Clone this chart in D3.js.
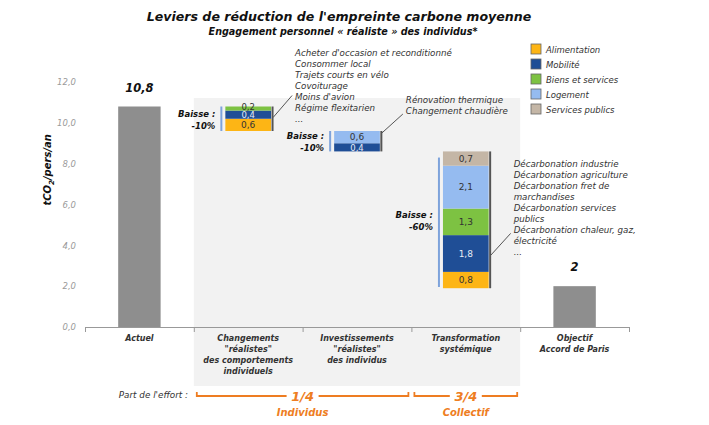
<!DOCTYPE html>
<html>
<head>
<meta charset="utf-8">
<script src="https://cdn.jsdelivr.net/npm/d3@7"></script>
<style>
  body { margin: 0; background: #fff; }
  text { font-family: "DejaVu Sans", sans-serif; }
</style>
</head>
<body>
<div id="chart"></div>
<script>
// data
const categories = ["Actuel", "Changements", "Investissements", "Transformation", "Objectif"];
const categoryLabels = [
    ["Actuel"],
    ["Changements", "\"réalistes\"", "des comportements", "individuels"],
    ["Investissements", "\"réalistes\"", "des individus"],
    ["Transformation", "systémique"],
    ["Objectif", "Accord de Paris"]
];
const sectors = ["Alimentation", "Mobilité", "Biens et services", "Logement", "Services publics"];
const sectorColors = ["#FDB515", "#1F4E96", "#7DC242", "#95BBF0", "#C4B6A6"];
const actuelValue = 10.8;
const objectifValue = 2;
const changementsValues = [0.6, 0.4, 0.2, 0, 0];
const investissementsValues = [0, 0.4, 0, 0.6, 0];
const transformationValues = [0.8, 1.8, 1.3, 2.1, 0.7];
const baisseLabels = ["-10%", "-10%", "-60%"];
const yTicks = [0, 2, 4, 6, 8, 10, 12];
const changementsNotes = ["Acheter d'occasion et reconditionné", "Consommer local", "Trajets courts en vélo",
    "Covoiturage", "Moins d'avion", "Régime flexitarien", "..."];
const investissementsNotes = ["Rénovation thermique", "Changement chaudière"];
const transformationNotes = ["Décarbonation industrie", "Décarbonation agriculture", "Décarbonation fret de",
    "marchandises", "Décarbonation services", "publics", "Décarbonation chaleur, gaz,", "électricité", "..."];

const width = 709, height = 425;
const orange = "#EE7D22";

const svg = d3.select("#chart")
    .append("svg")
    .attr("width", width)
    .attr("height", height);

//scales
const xScale = d3.scaleBand()
    .domain(categories)
    .range([85, 629])
    .padding(0);

const yScale = d3.scaleLinear()
    .domain([0, 12])
    .range([327, 82]);

const bw = xScale.bandwidth();
const cx = c => xScale(c) + bw / 2;
const fmt = v => d3.format(".1f")(v).replace(".", ",");

//grey background behind the three levers
svg.append("rect")
    .attr("x", xScale("Changements"))
    .attr("y", 98)
    .attr("width", bw * 3)
    .attr("height", 288)
    .attr("fill", "#F2F2F2");

//titles
svg.append("text")
    .attr("x", 339).attr("y", 21)
    .attr("text-anchor", "middle")
    .attr("font-size", "12.6px")
    .attr("font-weight", "bold")
    .attr("font-style", "italic")
    .attr("fill", "#111")
    .text("Leviers de réduction de l'empreinte carbone moyenne");

svg.append("text")
    .attr("x", 343).attr("y", 35)
    .attr("text-anchor", "middle")
    .attr("font-size", "9.6px")
    .attr("font-weight", "bold")
    .attr("font-style", "italic")
    .attr("fill", "#111")
    .text("Engagement personnel « réaliste » des individus*");

//y axis (labels only)
svg.append("g")
    .attr("transform", "translate(85,0)")
    .call(d3.axisLeft(yScale).tickValues(yTicks).tickFormat(fmt).tickSize(0).tickPadding(9))
    .call(g => g.select(".domain").remove())
    .selectAll("text")
    .attr("font-size", "8.5px")
    .attr("font-style", "italic")
    .attr("fill", "#9A9A9A");

const yLab = svg.append("text")
    .attr("transform", `translate(51,${yScale(7.7)}) rotate(-90)`)
    .attr("text-anchor", "middle")
    .attr("font-size", "10px")
    .attr("font-weight", "bold")
    .attr("font-style", "italic")
    .attr("fill", "#111");
yLab.append("tspan").text("tCO");
yLab.append("tspan").attr("font-size", "7px").attr("dy", 3).text("2");
yLab.append("tspan").attr("dy", -3).text("/pers/an");

//x axis
svg.append("g")
    .attr("transform", `translate(0,${yScale(0)})`)
    .call(d3.axisBottom(d3.scaleLinear().domain([0, 5]).range([85, 629]))
        .tickValues([0, 1, 2, 3, 4, 5]).tickFormat("").tickSize(5).tickSizeOuter(0))
    .call(g => g.selectAll("line, path").attr("stroke", "#999"));

//category labels
categoryLabels.forEach((lines, i) => {
    const t = svg.append("text")
        .attr("x", cx(categories[i]))
        .attr("y", 341)
        .attr("text-anchor", "middle")
        .attr("font-size", "8px")
        .attr("font-weight", "bold")
        .attr("font-style", "italic")
        .attr("fill", "#333");
    lines.forEach((l, j) => t.append("tspan").attr("x", cx(categories[i])).attr("dy", j ? 11 : 0).text(l));
});

//grey total bars
const totals = [["Actuel", actuelValue], ["Objectif", objectifValue]];
const grayW = bw * 0.39;
svg.append("g")
    .selectAll("rect")
    .data(totals)
    .enter()
    .append("rect")
    .attr("x", d => cx(d[0]) - grayW / 2)
    .attr("y", d => yScale(d[1]))
    .attr("width", grayW)
    .attr("height", d => yScale(0) - yScale(d[1]))
    .attr("fill", "#8E8E8E");

svg.append("g")
    .selectAll("text")
    .data(totals)
    .enter()
    .append("text")
    .attr("x", d => cx(d[0]))
    .attr("y", d => yScale(d[1]) - 15)
    .attr("text-anchor", "middle")
    .attr("font-size", "11.5px")
    .attr("font-weight", "bold")
    .attr("font-style", "italic")
    .attr("fill", "#111")
    .text(d => String(d[1]).replace(".", ","));

//waterfall levers
const levers = [
    ["Changements", changementsValues],
    ["Investissements", investissementsValues],
    ["Transformation", transformationValues]
];
const stackW = bw * 0.42;
let level = actuelValue;
const leverBoxes = [];

levers.forEach(([cat, values], k) => {
    const total = d3.sum(values);
    const base = level - total;
    level = base;
    const x0 = cx(cat) - stackW / 2;
    let acc = base;
    const segs = values.map((v, i) => {
        const s = {i: i, v: v, y0: acc, y1: acc + v};
        acc += v;
        return s;
    }).filter(s => s.v > 0);

    const g = svg.append("g");
    g.selectAll("rect")
        .data(segs)
        .enter()
        .append("rect")
        .attr("x", x0)
        .attr("y", d => yScale(d.y1))
        .attr("width", stackW)
        .attr("height", d => yScale(d.y0) - yScale(d.y1))
        .attr("fill", d => sectorColors[d.i]);

    g.selectAll("text")
        .data(segs)
        .enter()
        .append("text")
        .attr("x", cx(cat))
        .attr("y", d => (yScale(d.y0) + yScale(d.y1)) / 2 + 3.2 - (d.v < 0.3 ? 1.5 : 0))
        .attr("text-anchor", "middle")
        .attr("font-size", d => d.v < 0.5 ? "8.5px" : "9px")
        .attr("fill", d => d.i === 1 ? "#E8ECF5" : "#333")
        .text(d => fmt(d.v));

    //dark edge on the right
    g.append("line")
        .attr("x1", x0 + stackW + 1.5).attr("x2", x0 + stackW + 1.5)
        .attr("y1", yScale(base + total)).attr("y2", yScale(base))
        .attr("stroke", "#555").attr("stroke-width", 2);

    //blue bracket on the left
    const inset = total > 3 ? 0.3 : 0;
    g.append("line")
        .attr("x1", x0 - 4).attr("x2", x0 - 4)
        .attr("y1", yScale(base + total - inset)).attr("y2", yScale(base + inset * 0.2))
        .attr("stroke", "#7EA3DB").attr("stroke-width", 2);

    const mid = (yScale(base) + yScale(base + total)) / 2;
    const bt = g.append("text")
        .attr("x", x0 - 10)
        .attr("y", mid - 2)
        .attr("text-anchor", "end")
        .attr("font-size", "8.5px")
        .attr("font-weight", "bold")
        .attr("font-style", "italic")
        .attr("fill", "#111");
    bt.append("tspan").attr("x", x0 - 10).text("Baisse :");
    bt.append("tspan").attr("x", x0 - 10).attr("dy", 12).text(baisseLabels[k]);

    leverBoxes.push({right: x0 + stackW + 2, top: yScale(base + total), bottom: yScale(base)});
});

//annotations with leader lines
function note(box, lines, fy, dx, dy, firstY) {
    const sx = box.right, sy = box.top + (box.bottom - box.top) * fy;
    svg.append("line")
        .attr("x1", sx).attr("y1", sy)
        .attr("x2", sx + dx).attr("y2", sy + dy)
        .attr("stroke", "#555").attr("stroke-width", 1);
    const t = svg.append("text")
        .attr("font-size", "8.7px")
        .attr("font-style", "italic")
        .attr("fill", "#333");
    lines.forEach((l, j) => t.append("tspan")
        .attr("x", sx + dx + 3)
        .attr("y", firstY + j * 11)
        .text(l));
}
note(leverBoxes[0], changementsNotes, 0.45, 19, -22, 56);
note(leverBoxes[1], investissementsNotes, 0.1, 21, -19, 103);
note(leverBoxes[2], transformationNotes, 0.76, 20, -22, 167);

//legend
const legend = svg.append("g")
    .selectAll("g")
    .data(sectors)
    .enter()
    .append("g")
    .attr("transform", (d, i) => `translate(531,${44 + i * 15})`);
legend.append("rect")
    .attr("width", 10).attr("height", 10)
    .attr("fill", (d, i) => sectorColors[i])
    .attr("stroke", "#666").attr("stroke-width", 0.8);
legend.append("text")
    .attr("x", 15).attr("y", 8.5)
    .attr("font-size", "8.5px")
    .attr("font-style", "italic")
    .attr("fill", "#333")
    .text(d => d);

//part de l'effort
svg.append("text")
    .attr("x", 188).attr("y", 398)
    .attr("text-anchor", "end")
    .attr("font-size", "8.8px")
    .attr("font-style", "italic")
    .attr("fill", "#333")
    .text("Part de l'effort :");

const efforts = [
    {from: "Changements", to: "Investissements", share: "1/4", who: "Individus"},
    {from: "Transformation", to: "Transformation", share: "3/4", who: "Collectif"}
];
efforts.forEach(e => {
    const x1 = xScale(e.from) + 3, x2 = xScale(e.to) + bw - 3;
    const m = (x1 + x2) / 2;
    const yb = 396;
    svg.append("path")
        .attr("d", `M${x1},${yb - 4}V${yb}H${m - 16}M${m + 16},${yb}H${x2}V${yb - 4}`)
        .attr("fill", "none")
        .attr("stroke", orange)
        .attr("stroke-width", 1.8);
    svg.append("text")
        .attr("x", m).attr("y", yb + 5)
        .attr("text-anchor", "middle")
        .attr("font-size", "13px")
        .attr("font-weight", "bold")
        .attr("font-style", "italic")
        .attr("fill", orange)
        .text(e.share);
    svg.append("text")
        .attr("x", m).attr("y", yb + 20)
        .attr("text-anchor", "middle")
        .attr("font-size", "10px")
        .attr("font-weight", "bold")
        .attr("font-style", "italic")
        .attr("fill", orange)
        .text(e.who);
});
</script>
</body>
</html>
